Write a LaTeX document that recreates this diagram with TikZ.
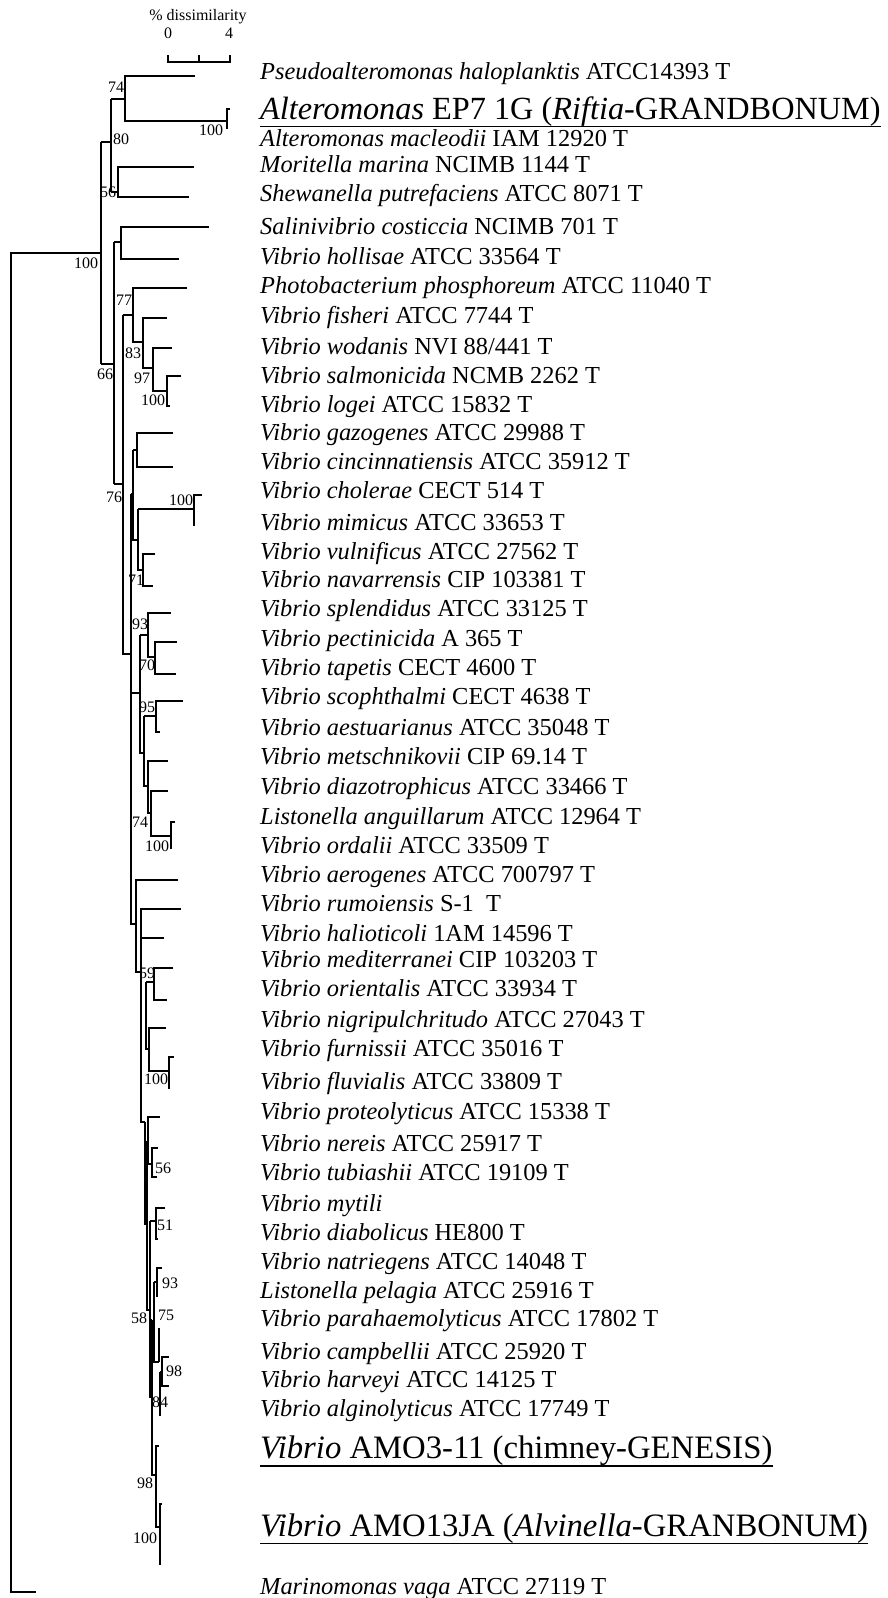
\documentclass[tikz,border=0pt]{standalone}
\usepackage{fontspec}
\setmainfont{Liberation Serif}
\tikzset{
  branch/.style={line width=1.1pt},
  boot/.style={inner sep=0pt, font=\fontsize{16}{16}\selectfont},
  taxon/.style={anchor=base west, inner sep=0pt, font=\fontsize{24.4}{24.4}\selectfont},
  bigtaxon/.style={anchor=base west, inner sep=0pt, font=\fontsize{32.7}{32.7}\selectfont},
  uline/.style={line width=1.6pt}
}
\begin{document}
\begin{tikzpicture}[x=1pt,y=-1pt]
\useasboundingbox (0,0) rectangle (888,1598);

% scale bar
\node[boot] (sctitle) at (198,17) {\% dissimilarity};
\node[boot] (sc0) at (168,33) {0};
\node[boot] (sc4) at (229,33) {4};
\draw[branch] (168,55) -- (168,62) -- (230,62) -- (230,55);
\draw[branch] (199,62) -- (199,55);

% outgroups and top clades
\draw[branch] (195,76) -- (125,76) -- (125,121) -- (227,121);
\draw[branch] (230,109) -- (227,109) -- (227,129);
\draw[branch] (111,99) -- (125,99);
\draw[branch] (111,99) -- (111,192);
\draw[branch] (194,167) -- (118,167) -- (118,197) -- (189,197);
\draw[branch] (111,192) -- (118,192);
\draw[branch] (101,142) -- (111,142);
\draw[branch] (101,142) -- (101,364);
\draw[branch] (101,253) -- (11,253) -- (11,1592) -- (36,1592);
\draw[branch] (101,364) -- (114,364);
\draw[branch] (114,242) -- (114,484);
\draw[branch] (209,227) -- (121,227) -- (121,259) -- (179,259);
\draw[branch] (114,242) -- (121,242);

% Photobacterium / fisheri group
\draw[branch] (114,484) -- (123,484);
\draw[branch] (123,315) -- (123,654) -- (131,654);
\draw[branch] (123,315) -- (133,315);
\draw[branch] (187,288) -- (133,288) -- (133,342) -- (143,342);
\draw[branch] (167,318) -- (143,318) -- (143,368) -- (153,368);
\draw[branch] (172,348) -- (153,348) -- (153,391) -- (167,391);
\draw[branch] (181,376) -- (167,376) -- (167,406) -- (170,406);

% cholerae group
\draw[branch] (131,494) -- (131,924) -- (135,924);
\draw[branch] (131,494) -- (133,494);
\draw[branch] (173,433) -- (137,433) -- (137,467) -- (173,467);
\draw[branch] (133,450) -- (137,450);
\draw[branch] (133,450) -- (133,540) -- (138,540);
\draw[branch] (138,509) -- (194,509);
\draw[branch] (202,495) -- (194,495) -- (194,526);
\draw[branch] (138,509) -- (138,570) -- (143,570);
\draw[branch] (155,554) -- (143,554) -- (143,586) -- (153,586);

% splendidus group
\draw[branch] (131,693) -- (140,693);
\draw[branch] (140,635) -- (140,753) -- (144,753);
\draw[branch] (140,635) -- (148,635);
\draw[branch] (171,613) -- (148,613) -- (148,657) -- (155,657);
\draw[branch] (177,642) -- (155,642) -- (155,674) -- (176,674);
\draw[branch] (144,716) -- (144,786) -- (148,786);
\draw[branch] (144,716) -- (156,716);
\draw[branch] (183,701) -- (156,701) -- (156,732) -- (160,732);
\draw[branch] (168,761) -- (148,761) -- (148,813) -- (151,813);
\draw[branch] (168,791) -- (151,791) -- (151,836) -- (171,836);
\draw[branch] (175,822) -- (171,822) -- (171,849);

% aerogenes to fluvialis
\draw[branch] (178,880) -- (136,880) -- (136,972) -- (141,972);
\draw[branch] (181,909) -- (141,909) -- (141,1122) -- (145,1122);
\draw[branch] (141,938) -- (164,938);
\draw[branch] (173,968) -- (154,968) -- (154,1000) -- (167,1000);
\draw[branch] (146,982) -- (154,982);
\draw[branch] (146,982) -- (146,1049) -- (149,1049);
\draw[branch] (166,1028) -- (149,1028) -- (149,1071) -- (169,1071);
\draw[branch] (174,1057) -- (169,1057) -- (169,1089);

% harveyi group
\draw[branch] (145,1122) -- (145,1225);
\draw[branch] (145,1142) -- (148,1142);
\draw[branch] (160,1117) -- (148,1117) -- (148,1164) -- (152,1164);
\draw[branch] (158,1148) -- (152,1148) -- (152,1177) -- (157,1177);
\draw[branch] (147,1142) -- (147,1310) -- (150,1310);
\draw[branch] (150,1221) -- (156,1221);
\draw[branch] (165,1208) -- (156,1208) -- (156,1239) -- (158,1239);
\draw[branch] (150,1221) -- (150,1397) -- (152,1397);
\draw[branch] (154,1282) -- (157,1282);
\draw[branch] (162,1268) -- (157,1268) -- (157,1297);
\draw[branch] (154,1282) -- (154,1362) -- (159,1362);
\draw[branch] (159,1328) -- (159,1362);
\draw[branch] (150,1320) -- (152,1320);
\draw[branch] (152,1320) -- (152,1475) -- (156,1475);
\draw[branch] (169,1357) -- (162,1357) -- (162,1386) -- (169,1386);
\draw[branch] (160,1372) -- (162,1372);
\draw[branch] (160,1372) -- (160,1416);
\draw[branch] (159,1446) -- (156,1446) -- (156,1527) -- (160,1527);
\draw[branch] (162,1504) -- (160,1504) -- (160,1565);

% bootstrap values
\node[boot] (b74) at (116,87) {74};
\node[boot] (b100a) at (211,130) {100};
\node[boot] (b80) at (121,139) {80};
\node[boot] (b56) at (108,192) {56};
\node[boot] (b100b) at (86,263) {100};
\node[boot] (b66) at (105,374) {66};
\node[boot] (b77) at (124,300) {77};
\node[boot] (b83) at (133,353) {83};
\node[boot] (b97) at (142,378) {97};
\node[boot] (b100c) at (153,400) {100};
\node[boot] (b76) at (114,497) {76};
\node[boot] (b100d) at (181,500) {100};
\node[boot] (b71) at (136,580) {71};
\node[boot] (b93) at (140,624) {93};
\node[boot] (b70) at (147,665) {70};
\node[boot] (b95) at (147,707) {95};
\node[boot] (b74b) at (140,822) {74};
\node[boot] (b100e) at (157,846) {100};
\node[boot] (b59) at (147,973) {59};
\node[boot] (b100f) at (156,1079) {100};
\node[boot] (b56b) at (163,1168) {56};
\node[boot] (b51) at (165,1225) {51};
\node[boot] (b93b) at (170,1283) {93};
\node[boot] (b58) at (139,1318) {58};
\node[boot] (b75) at (166,1315) {75};
\node[boot] (b98) at (174,1371) {98};
\node[boot] (b84) at (160,1402) {84};
\node[boot] (b98b) at (145,1483) {98};
\node[boot] (b100g) at (145,1538) {100};

% taxa
\node[taxon] (pseudo) at (260,79) {\textit{Pseudoalteromonas haloplanktis} ATCC14393 T};
\node[bigtaxon, font=\fontsize{32.3}{32.3}\selectfont] (altep) at (260,119) {\textit{Alteromonas} EP7 1G (\textit{Riftia}-GRANDBONUM)};
\node[taxon] (altmac) at (260,146) {\textit{Alteromonas macleodii} IAM 12920 T};
\node[taxon] (morit) at (260,172) {\textit{Moritella marina} NCIMB 1144 T};
\node[taxon] (shew) at (260,201) {\textit{Shewanella putrefaciens} ATCC 8071 T};
\node[taxon] (salini) at (260,234) {\textit{Salinivibrio costiccia} NCIMB 701 T};
\node[taxon] (vholl) at (260,264) {\textit{Vibrio hollisae} ATCC 33564 T};
\node[taxon] (photo) at (260,293) {\textit{Photobacterium phosphoreum} ATCC 11040 T};
\node[taxon] (vfish) at (260,323) {\textit{Vibrio fisheri} ATCC 7744 T};
\node[taxon] (vwod) at (260,354) {\textit{Vibrio wodanis} NVI 88/441 T};
\node[taxon] (vsalm) at (260,383) {\textit{Vibrio salmonicida} NCMB 2262 T};
\node[taxon] (vlog) at (260,412) {\textit{Vibrio logei} ATCC 15832 T};
\node[taxon] (vgaz) at (260,440) {\textit{Vibrio gazogenes} ATCC 29988 T};
\node[taxon] (vcinc) at (260,469) {\textit{Vibrio cincinnatiensis} ATCC 35912 T};
\node[taxon] (vchol) at (260,498) {\textit{Vibrio cholerae} CECT 514 T};
\node[taxon] (vmim) at (260,530) {\textit{Vibrio mimicus} ATCC 33653 T};
\node[taxon] (vvul) at (260,559) {\textit{Vibrio vulnificus} ATCC 27562 T};
\node[taxon] (vnav) at (260,587) {\textit{Vibrio navarrensis} CIP 103381 T};
\node[taxon] (vspl) at (260,616) {\textit{Vibrio splendidus} ATCC 33125 T};
\node[taxon] (vpec) at (260,646) {\textit{Vibrio pectinicida} A 365 T};
\node[taxon] (vtap) at (260,675) {\textit{Vibrio tapetis} CECT 4600 T};
\node[taxon] (vsco) at (260,704) {\textit{Vibrio scophthalmi} CECT 4638 T};
\node[taxon] (vaes) at (260,735) {\textit{Vibrio aestuarianus} ATCC 35048 T};
\node[taxon] (vmet) at (260,764) {\textit{Vibrio metschnikovii} CIP 69.14 T};
\node[taxon] (vdia) at (260,794) {\textit{Vibrio diazotrophicus} ATCC 33466 T};
\node[taxon] (lang) at (260,824) {\textit{Listonella anguillarum} ATCC 12964 T};
\node[taxon] (vord) at (260,853) {\textit{Vibrio ordalii} ATCC 33509 T};
\node[taxon] (vaer) at (260,882) {\textit{Vibrio aerogenes} ATCC 700797 T};
\node[taxon] (vrum) at (260,911) {\textit{Vibrio rumoiensis} S-1\ \ T};
\node[taxon] (vhal) at (260,941) {\textit{Vibrio halioticoli} 1AM 14596 T};
\node[taxon] (vmed) at (260,967) {\textit{Vibrio mediterranei} CIP 103203 T};
\node[taxon] (vori) at (260,996) {\textit{Vibrio orientalis} ATCC 33934 T};
\node[taxon] (vnig) at (260,1027) {\textit{Vibrio nigripulchritudo} ATCC 27043 T};
\node[taxon] (vfur) at (260,1056) {\textit{Vibrio furnissii} ATCC 35016 T};
\node[taxon] (vflu) at (260,1089) {\textit{Vibrio fluvialis} ATCC 33809 T};
\node[taxon] (vpro) at (260,1119) {\textit{Vibrio proteolyticus} ATCC 15338 T};
\node[taxon] (vner) at (260,1151) {\textit{Vibrio nereis} ATCC 25917 T};
\node[taxon] (vtub) at (260,1180) {\textit{Vibrio tubiashii} ATCC 19109 T};
\node[taxon] (vmyt) at (260,1211) {\textit{Vibrio mytili}};
\node[taxon] (vdiab) at (260,1240) {\textit{Vibrio diabolicus} HE800 T};
\node[taxon] (vnat) at (260,1269) {\textit{Vibrio natriegens} ATCC 14048 T};
\node[taxon] (lpel) at (260,1298) {\textit{Listonella pelagia} ATCC 25916 T};
\node[taxon] (vpar) at (260,1326) {\textit{Vibrio parahaemolyticus} ATCC 17802 T};
\node[taxon] (vcam) at (260,1359) {\textit{Vibrio campbellii} ATCC 25920 T};
\node[taxon] (vhar) at (260,1387) {\textit{Vibrio harveyi} ATCC 14125 T};
\node[taxon] (valg) at (260,1416) {\textit{Vibrio alginolyticus} ATCC 17749 T};
\node[bigtaxon] (vamo) at (260,1458) {\textit{Vibrio} AMO3-11 (chimney-GENESIS)};
\node[bigtaxon] (vamj) at (260,1536) {\textit{Vibrio} AMO13JA (\textit{Alvinella}-GRANBONUM)};
\node[taxon] (marin) at (260,1594) {\textit{Marinomonas vaga} ATCC 27119 T};

% underlines of the new isolates
\draw[uline] ([yshift=-0.5pt]altep.south west) -- ([yshift=-0.5pt]altep.south east);
\draw[uline] ([yshift=-0.5pt]vamo.south west) -- ([yshift=-0.5pt]vamo.south east);
\draw[uline] ([yshift=-0.5pt]vamj.south west) -- ([yshift=-0.5pt]vamj.south east);
\end{tikzpicture}
\end{document}
